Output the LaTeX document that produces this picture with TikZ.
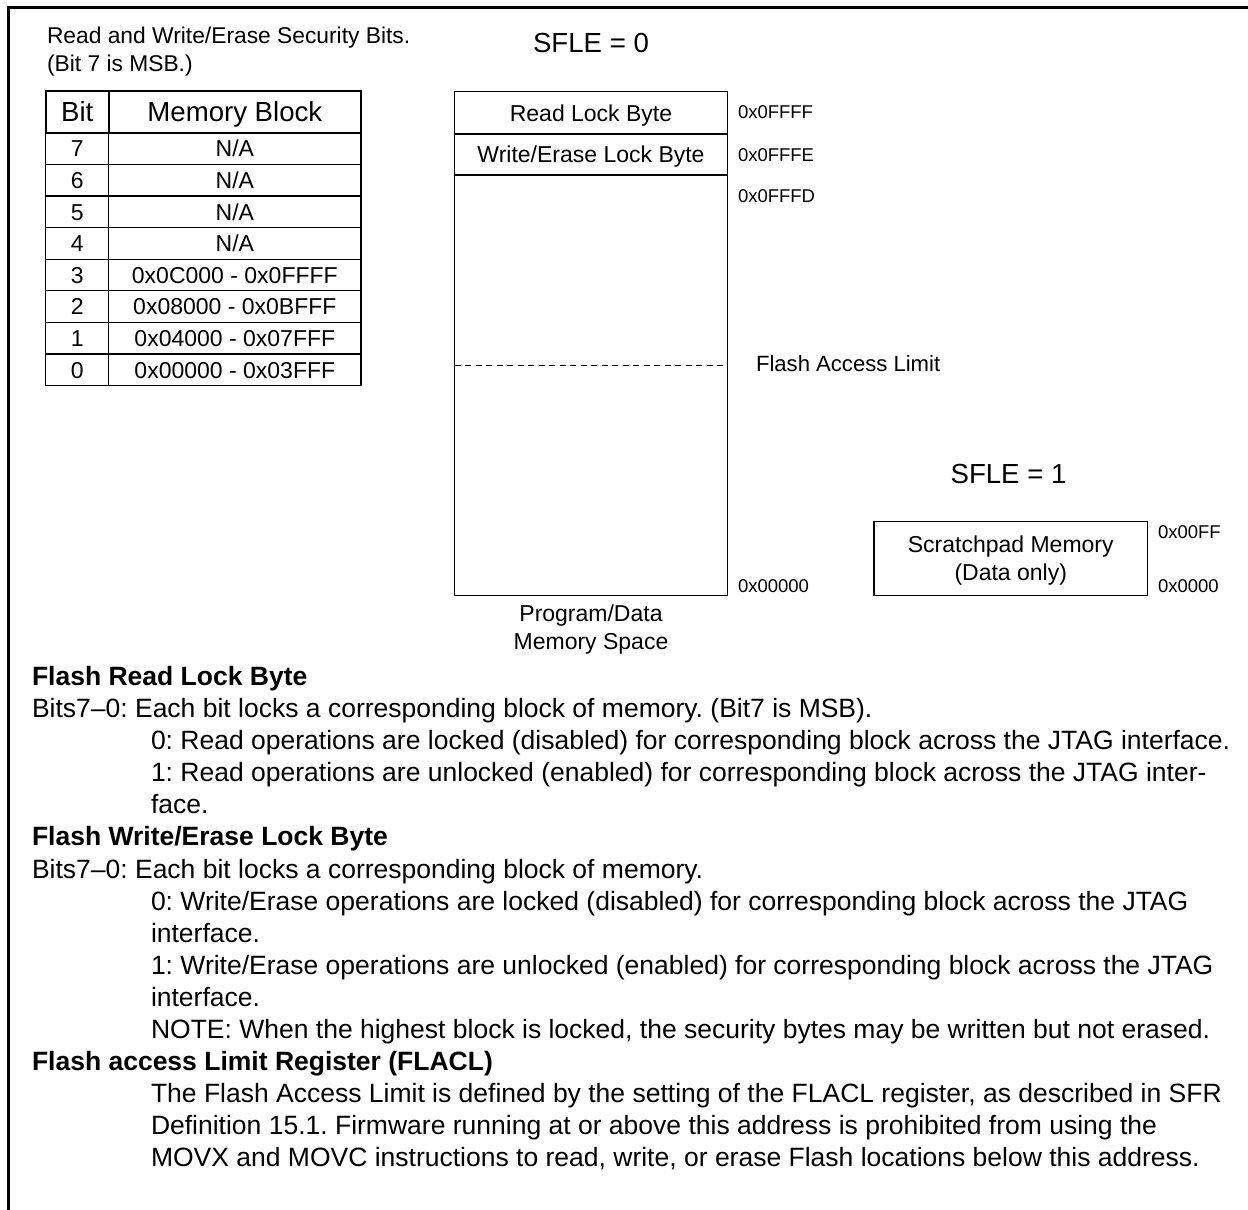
\documentclass[tikz,border=0pt]{standalone}
\usepackage{fontspec}
\setmainfont{Liberation Sans}
\frenchspacing
\begin{document}
\begin{tikzpicture}[x=1pt,y=-1pt,
  capc/.style={inner sep=0pt,outer sep=0pt,text depth=0pt},
  fsbig/.style={font=\fontsize{27.6}{33}\selectfont,text height=19.76pt},
  fsmid/.style={font=\fontsize{23}{27.6}\selectfont,text height=16.47pt},
  fstitle/.style={font=\fontsize{22.8}{27}\selectfont,text height=16.32pt},
  fsfal/.style={font=\fontsize{22.1}{26.5}\selectfont,text height=15.82pt},
  fssmall/.style={font=\fontsize{18.5}{22}\selectfont,text height=13.25pt},
  fsbody/.style={font=\fontsize{26.5}{32}\selectfont,text height=18.97pt},
  fsbold/.style={font=\fontsize{26.5}{32}\selectfont\bfseries,text height=18.97pt},
  cell/.style={draw,capc,fsmid,line width=1.3pt,minimum height=31.625pt},
  hcell/.style={draw,capc,fsbig,line width=2pt,minimum height=42pt},
  memb/.style={draw,capc,fsmid,line width=1.5pt,minimum width=273pt},
  addr/.style={capc,fssmall,anchor=west},
  bodyl/.style={capc,fsbody,anchor=west},
  headl/.style={capc,fsbold,anchor=west}
]
\useasboundingbox (0,0) rectangle (1248,1210);
% frame
\draw[line width=3.3pt] (8.3,1212) -- (8.3,7.3) -- (1250,7.3);

% title
\node[capc,fstitle,anchor=west] (t1) at (47,35) {Read and Write/Erase Security Bits.};
\node[capc,fstitle,anchor=west] (t2) at (47,63) {(Bit 7 is MSB.)};

% table
\foreach \b/\m [count=\i from 0] in {7/N\slash A,6/N\slash A,5/N\slash A,4/N\slash A,3/0x0C000 - 0x0FFFF,2/0x08000 - 0x0BFFF,1/0x04000 - 0x07FFF,0/0x00000 - 0x03FFF}{
  \node[cell,minimum width=63pt] (b\i) at (77.2,{132.7+31.625*(\i+0.5)}) {\b};
  \node[cell,minimum width=252.3pt] (m\i) at (234.85,{132.7+31.625*(\i+0.5)}) {\m};
}
\node[hcell,minimum width=63pt] (hb) at (77.2,111.7) {Bit};
\node[hcell,minimum width=252.3pt] (hm) at (234.85,111.7) {Memory Block};

% SFLE = 0 memory
\node[capc,fsbig] (sfle0) at (591,42.8) {SFLE = 0};
\node[memb,minimum height=42.3pt] (rlb) at (591,112.85) {Read Lock Byte};
\node[memb,minimum height=41pt] (welb) at (591,154.5) {Write/Erase Lock Byte};
\node[memb,minimum height=420.7pt] (space) at (591,385.35) {};
\coordinate (falc) at (591,365);
\draw[line width=1pt,dash pattern=on 6pt off 4.5pt] (space.west |- falc) -- (space.east |- falc);
\node[capc,fsfal,anchor=west] (fal) at (756,364) {Flash Access Limit};
\node[addr] (a1) at (738,111.7) {0x0FFFF};
\node[addr] (a2) at (738,154.5) {0x0FFFE};
\node[addr] (a3) at (738,196) {0x0FFFD};
\node[addr] (a4) at (738,585.7) {0x00000};
\node[capc,fsmid] (pd1) at (591,613) {Program/Data};
\node[capc,fsmid] (pd2) at (591,641) {Memory Space};

% SFLE = 1
\node[capc,fsbig] (sfle1) at (1008.5,474) {SFLE = 1};
\node[draw,line width=1.5pt,minimum width=273.5pt,minimum height=74pt,inner sep=0pt] (scr) at (1010.75,558.7) {};
\node[capc,fsmid] (scr1) at (1010.75,544) {Scratchpad Memory};
\node[capc,fsmid] (scr2) at (1010.75,572) {(Data only)};
\node[addr] (a5) at (1158,531.7) {0x00FF};
\node[addr] (a6) at (1158,586) {0x0000};

% body text
\def\ly#1{676+32.1*#1}
\node[headl] (l0) at (32,{\ly{0}}) {Flash Read Lock Byte};
\node[bodyl] (l1) at (32,{\ly{1}}) {Bits7–0: Each bit locks a corresponding block of memory. (Bit7 is MSB).};
\node[bodyl] (l2) at (151,{\ly{2}}) {0: Read operations are locked (disabled) for corresponding block across the JTAG interface.};
\node[bodyl] (l3) at (151,{\ly{3}}) {1: Read operations are unlocked (enabled) for corresponding block across the JTAG inter-};
\node[bodyl] (l4) at (151,{\ly{4}}) {face.};
\node[headl] (l5) at (32,{\ly{5}}) {Flash Write/Erase Lock Byte};
\node[bodyl] (l6) at (32,{\ly{6}}) {Bits7–0: Each bit locks a corresponding block of memory.};
\node[bodyl] (l7) at (151,{\ly{7}}) {0: Write/Erase operations are locked (disabled) for corresponding block across the JTAG};
\node[bodyl] (l8) at (151,{\ly{8}}) {interface.};
\node[bodyl] (l9) at (151,{\ly{9}}) {1: Write/Erase operations are unlocked (enabled) for corresponding block across the JTAG};
\node[bodyl] (l10) at (151,{\ly{10}}) {interface.};
\node[bodyl] (l11) at (151,{\ly{11}}) {NOTE: When the highest block is locked, the security bytes may be written but not erased.};
\node[headl] (l12) at (32,{\ly{12}}) {Flash access Limit Register (FLACL)};
\node[bodyl] (l13) at (151,{\ly{13}}) {The Flash Access Limit is defined by the setting of the FLACL register, as described in SFR};
\node[bodyl] (l14) at (151,{\ly{14}}) {Definition 15.1. Firmware running at or above this address is prohibited from using the};
\node[bodyl] (l15) at (151,{\ly{15}}) {MOVX and MOVC instructions to read, write, or erase Flash locations below this address.};
\end{tikzpicture}
\end{document}
